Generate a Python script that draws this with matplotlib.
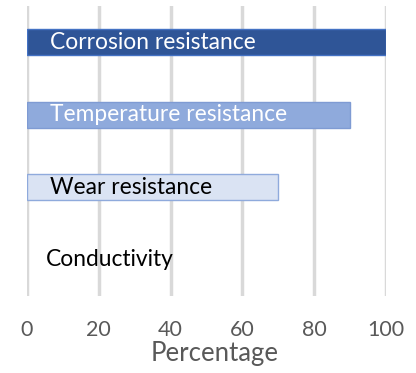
import matplotlib.pyplot as plt

# properties and their percentage scores
properties = ["Corrosion resistance", "Temperature resistance", "Wear resistance", "Conductivity"]
scores = [100, 90, 70, 0]
fill_colors = ["#2F5597", "#8FAADC", "#DAE3F3", "#DAE3F3"]
edge_colors = ["#4472C4", "#7F9BD3", "#8FAADC", "none"]
text_colors = ["white", "white", "black", "black"]
ticks = [0, 20, 40, 60, 80, 100]

plt.rcParams['font.family'] = ['Lato', 'DejaVu Sans']

fig = plt.figure(figsize=(4.16, 3.73), dpi=100)
ax = fig.add_axes([27/416, 1 - 296/373, 359/416, 290/373])

pos = list(range(len(properties)))
ax.barh(pos, scores, height=0.36, color=fill_colors, edgecolor=edge_colors,
        linewidth=1, zorder=3)

# category names written inside the bars
for i, (name, tc) in enumerate(zip(properties, text_colors)):
    offset = 23 if scores[i] > 0 else 19
    ax.annotate(name, xy=(0, i), xytext=(offset, 0), textcoords='offset pixels',
                ha='left', va='center', fontsize=16.4, color=tc, zorder=4)

ax.set_xlim(0, 100)
ax.set_ylim(len(properties) - 0.5, -0.5)
ax.set_xticks(ticks)
ax.set_yticks([])
ax.grid(axis='x', color='#D9D9D9', linewidth=2.5, zorder=0)
for s in ax.spines.values():
    s.set_visible(False)
ax.tick_params(axis='x', length=0, pad=17, labelsize=15.5, labelcolor='#595959')

fig.text(215/416, 1 - 361/373, "Percentage", ha='center', va='baseline',
         fontsize=18.5, color='#595959')

fig.savefig("out.png", dpi=100)
